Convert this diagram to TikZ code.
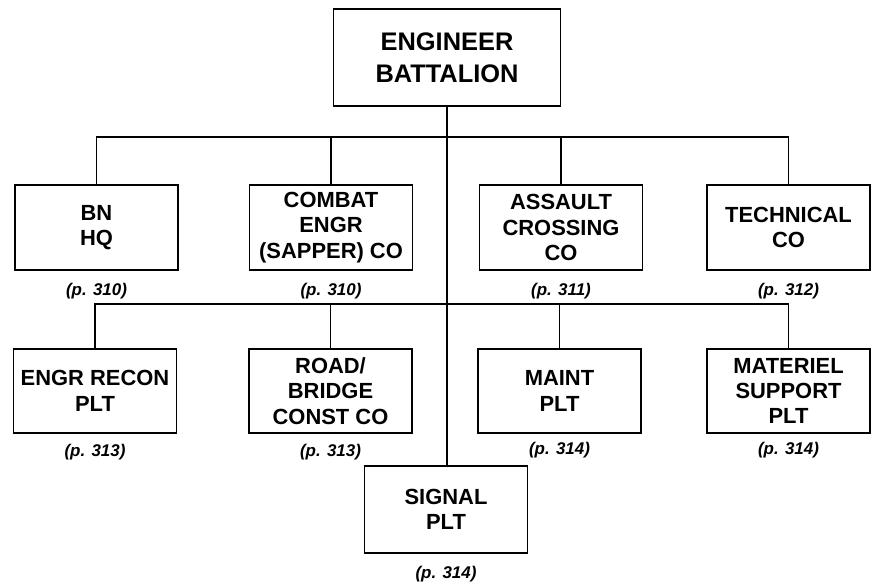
\documentclass[tikz,border=0pt]{standalone}
\usepackage{fontspec}
\setmainfont{Liberation Sans}
\usetikzlibrary{positioning}

\begin{document}
\begin{tikzpicture}[x=1bp, y=-1bp,
  unit/.style={draw, line width=1.9bp, rectangle, inner sep=0pt, align=center,
    minimum width=163bp, minimum height=85bp, font=\fontsize{22}{25.5}\selectfont\bfseries},
  pageref/.style={inner sep=0pt, font=\fontsize{17}{19}\selectfont\bfseries\itshape},
  link/.style={line width=1.6bp}]
  \useasboundingbox (0,0) rectangle (872,586);

  % battalion
  \node[unit, minimum width=227bp, minimum height=97bp, font=\fontsize{25.5}{32}\selectfont\bfseries]
    (hq) at (447,57.5) {ENGINEER\\BATTALION};

  % first row
  \node[unit] (bnhq) at (96.5,227.5) {BN\\HQ};
  \node[unit] (combat) at (331,227.5) {COMBAT\\ENGR\\(SAPPER) CO};
  \node[unit] (assault) at (561,227.5) {ASSAULT\\CROSSING\\CO};
  \node[unit] (tech) at (788.5,227.5) {TECHNICAL\\CO};

  % second row
  \node[unit, minimum height=84bp] (recon) at (95,391) {ENGR RECON\\PLT};
  \node[unit, minimum height=84bp] (road) at (330.5,391) {ROAD/\\BRIDGE\\CONST CO};
  \node[unit, minimum height=84bp] (maint) at (559.5,391) {MAINT\\PLT};
  \node[unit, minimum height=84bp] (materiel) at (788.5,391) {MATERIEL\\SUPPORT\\PLT};

  \node[unit, minimum height=87bp] (signal) at (446,509.5) {SIGNAL\\PLT};

  % page references
  \node[pageref, below=12bp of bnhq] (bnhqp) {(p. 310)};
  \node[pageref, below=12bp of combat] (combatp) {(p. 310)};
  \node[pageref, below=12bp of assault] (assaultp) {(p. 311)};
  \node[pageref, below=12bp of tech] (techp) {(p. 312)};
  \node[pageref, below=10bp of recon] (reconp) {(p. 313)};
  \node[pageref, below=10bp of road] (roadp) {(p. 313)};
  \node[pageref, below=8bp of maint] (maintp) {(p. 314)};
  \node[pageref, below=8bp of materiel] (materielp) {(p. 314)};
  \node[pageref, below=12bp of signal] (signalp) {(p. 314)};

  % connectors
  \coordinate (bus1) at (447,137);
  \coordinate (bus2) at (447,304);
  \draw[link] (hq.south) -- (hq.south |- signal.north);
  \draw[link] (bnhq.north) |- (bus1) -| (tech.north);
  \draw[link] (combat.north) -- (combat.north |- bus1);
  \draw[link] (assault.north) -- (assault.north |- bus1);
  \draw[link] (recon.north) |- (bus2) -| (materiel.north);
  \draw[link] (road.north) -- (road.north |- bus2);
  \draw[link] (maint.north) -- (maint.north |- bus2);
\end{tikzpicture}
\end{document}
